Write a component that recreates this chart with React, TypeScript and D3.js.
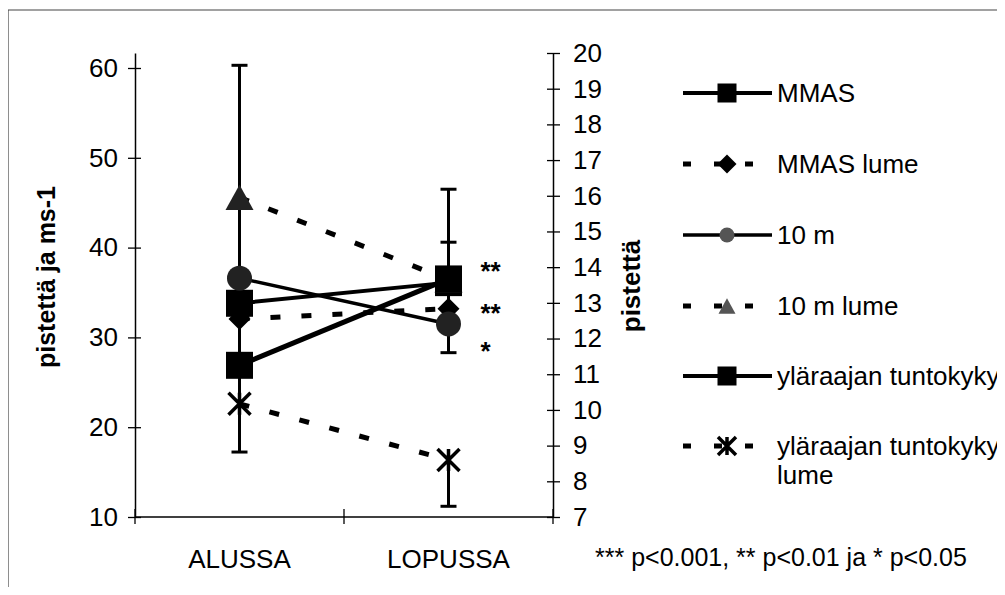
import React, { useEffect, useRef } from "react";
import * as d3 from "d3";

// categories and tick labels
const categories = ["ALUSSA", "LOPUSSA"];
const leftTicks = [10, 20, 30, 40, 50, 60];
const rightTicks = [7, 8, 9, 10, 11, 12, 13, 14, 15, 16, 17, 18, 19, 20];

// series values (left axis: pistettä ja ms-1)
const mmas = [33.8, 36.1];
const mmasLume = [32.05, 33.2];
const tenM = [36.6, 31.5];
const tenMLume = [45.6, 36.4];
// series values (right axis: pistettä)
const ylaraaja = [11.25, 13.67];
const ylaraajaLume = [10.17, 8.6];

// error bar ends (null = none)
const mmasErrHigh = [null, null];
const mmasErrLow = [26.9, null];
const tenMErrHigh = [null, 40.6];
const tenMErrLow = [33.8, 28.3];
const tenMLumeErrHigh = [60.3, 46.5];
const tenMLumeErrLow = [36.6, null];
const ylaraajaLumeErrHigh = [11.25, null];
const ylaraajaLumeErrLow = [8.82, 7.3];

// significance marks next to LOPUSSA
const sigMarks = ["**", "**", "*"];
const sigValues = [37.8, 33.2, 28.9];

const footnote = "*** p<0.001, ** p<0.01 ja * p<0.05";

type Series = {
  name: string;
  values: number[];
  axis: "left" | "right";
  dashed: boolean;
  width: number;
  marker: "square" | "diamond" | "circle" | "triangle" | "star";
  fill: string;
  errHigh?: (number | null)[];
  errLow?: (number | null)[];
};

const series: Series[] = [
  { name: "MMAS", values: mmas, axis: "left", dashed: false, width: 4, marker: "square", fill: "#000", errHigh: mmasErrHigh, errLow: mmasErrLow },
  { name: "MMAS lume", values: mmasLume, axis: "left", dashed: true, width: 5, marker: "diamond", fill: "#000" },
  { name: "10 m", values: tenM, axis: "left", dashed: false, width: 3.5, marker: "circle", fill: "#222", errHigh: tenMErrHigh, errLow: tenMErrLow },
  { name: "10 m lume", values: tenMLume, axis: "left", dashed: true, width: 5, marker: "triangle", fill: "#222", errHigh: tenMLumeErrHigh, errLow: tenMLumeErrLow },
  { name: "yläraajan tuntokyky", values: ylaraaja, axis: "right", dashed: false, width: 5, marker: "square", fill: "#000" },
  { name: "yläraajan tuntokyky lume", values: ylaraajaLume, axis: "right", dashed: true, width: 5, marker: "star", fill: "#000", errHigh: ylaraajaLumeErrHigh, errLow: ylaraajaLumeErrLow },
];

const FONT = "'Liberation Sans', Arial, Helvetica, sans-serif";

function drawMarker(g: any, type: string, cx: number, cy: number, s: number, fill: string) {
  const h = s / 2;
  if (type === "square") {
    g.append("rect").attr("x", cx - h).attr("y", cy - h).attr("width", s).attr("height", s).attr("fill", fill);
  } else if (type === "diamond") {
    g.append("path").attr("d", `M${cx},${cy - h}L${cx + h},${cy}L${cx},${cy + h}L${cx - h},${cy}Z`).attr("fill", fill);
  } else if (type === "circle") {
    g.append("circle").attr("cx", cx).attr("cy", cy).attr("r", h).attr("fill", fill);
  } else if (type === "triangle") {
    const th = s * 0.9;
    g.append("path").attr("d", `M${cx},${cy - th / 2}L${cx + h},${cy + th / 2}L${cx - h},${cy + th / 2}Z`).attr("fill", fill);
  } else if (type === "star") {
    g.append("path")
      .attr("d", `M${cx - h},${cy - h}L${cx + h},${cy + h}M${cx + h},${cy - h}L${cx - h},${cy + h}M${cx},${cy - h}L${cx},${cy + h}`)
      .attr("stroke", fill).attr("stroke-width", 3.5).attr("fill", "none");
  }
}

export default function App() {
  const svgRef = useRef<SVGSVGElement>(null);

  useEffect(() => {
    const svg = d3.select(svgRef.current);
    svg.selectAll("*").remove();

    // Dimensions of the plot area
    const left = 135, right = 553, top = 53, bottom = 517;

    const x = d3.scaleBand().domain(categories).range([left, right]);
    const yL = d3.scaleLinear().domain([10, 61.67]).range([bottom, top]);
    const yR = d3.scaleLinear().domain([7, 20]).range([bottom, top]);
    const cx = (c: string) => (x(c) as number) + x.bandwidth() / 2;
    const yOf = (s: Series) => (s.axis === "left" ? yL : yR);

    // frame
    svg.append("path").attr("d", "M8,595V10H1005").attr("fill", "none").attr("stroke", "#444").attr("stroke-width", 1.2);

    // left axis
    const gl = svg.append("g").attr("transform", `translate(${left},0)`)
      .call(d3.axisLeft(yL).tickValues(leftTicks).tickSize(7).tickSizeOuter(0).tickPadding(10).tickFormat(d3.format("d")));
    gl.selectAll(".tick line").attr("x1", 6).attr("stroke-width", 1.3);
    gl.select(".domain").attr("stroke-width", 1.5);
    gl.selectAll("text").attr("font-size", 26).attr("font-family", FONT).attr("fill", "#000");

    // right axis
    const gr = svg.append("g").attr("transform", `translate(${right},0)`)
      .call(d3.axisRight(yR).tickValues(rightTicks).tickSize(7).tickSizeOuter(0).tickPadding(13).tickFormat(d3.format("d")));
    gr.selectAll(".tick line").attr("x1", -6).attr("stroke-width", 1.3);
    gr.select(".domain").attr("stroke-width", 1.5);
    gr.selectAll("text").attr("font-size", 26).attr("font-family", FONT).attr("fill", "#000");

    // category axis
    svg.append("line").attr("x1", left).attr("x2", right).attr("y1", bottom).attr("y2", bottom).attr("stroke", "#000").attr("stroke-width", 1.5);
    const bounds = [left, ...categories.map((c) => (x(c) as number) + x.bandwidth())];
    svg.selectAll(".xtick").data(bounds).enter().append("line")
      .attr("x1", (d) => d).attr("x2", (d) => d).attr("y1", bottom - 8).attr("y2", bottom + 7)
      .attr("stroke", "#000").attr("stroke-width", 1.3);
    svg.selectAll(".xlabel").data(categories).enter().append("text")
      .attr("x", (d) => cx(d)).attr("y", 568).attr("text-anchor", "middle")
      .attr("font-size", 26).attr("font-family", FONT).text((d) => d);

    // axis titles
    svg.append("text").attr("transform", "translate(55,277) rotate(-90)").attr("text-anchor", "middle")
      .attr("font-size", 25).attr("font-weight", "bold").attr("font-family", FONT).text("pistettä ja ms-1");
    svg.append("text").attr("transform", "translate(640,286) rotate(-90)").attr("text-anchor", "middle")
      .attr("font-size", 26).attr("font-weight", "bold").attr("font-family", FONT).text("pistettä");

    // error bars
    const eg = svg.append("g");
    series.forEach((s) => {
      const y = yOf(s);
      categories.forEach((c, i) => {
        [s.errHigh?.[i], s.errLow?.[i]].forEach((end) => {
          if (end == null) return;
          eg.append("line").attr("x1", cx(c)).attr("x2", cx(c)).attr("y1", y(s.values[i])).attr("y2", y(end))
            .attr("stroke", "#000").attr("stroke-width", 3);
          eg.append("line").attr("x1", cx(c) - 8).attr("x2", cx(c) + 8).attr("y1", y(end)).attr("y2", y(end))
            .attr("stroke", "#000").attr("stroke-width", 3);
        });
      });
    });

    // lines
    const lg = svg.append("g");
    series.forEach((s) => {
      const y = yOf(s);
      const line = d3.line<number>().x((_, i) => cx(categories[i])).y((d) => y(d));
      lg.append("path").attr("d", line(s.values)).attr("fill", "none").attr("stroke", "#000")
        .attr("stroke-width", s.width).attr("stroke-dasharray", s.dashed ? "10 21" : null);
    });

    // markers
    const mg = svg.append("g");
    const sizes: Record<string, number> = { square: 27, diamond: 22, circle: 25, triangle: 28, star: 22 };
    series.forEach((s) => {
      const y = yOf(s);
      s.values.forEach((v, i) => drawMarker(mg, s.marker, cx(categories[i]), y(v), sizes[s.marker], s.fill));
    });

    // significance marks
    svg.selectAll(".sig").data(sigMarks).enter().append("text")
      .attr("x", cx(categories[1]) + 32).attr("y", (_, i) => yL(sigValues[i]) + 13)
      .attr("font-size", 26).attr("font-weight", "bold").attr("font-family", FONT).text((d) => d);

    // legend
    const legendY = [93, 164, 235, 306, 376, 446];
    const legendSizes: Record<string, number> = { square: 19, diamond: 19, circle: 15, triangle: 17, star: 18 };
    series.forEach((s, i) => {
      const ly = legendY[i];
      svg.append("line").attr("x1", 683).attr("x2", 772).attr("y1", ly).attr("y2", ly)
        .attr("stroke", "#000").attr("stroke-width", s.dashed ? 5 : Math.min(s.width, 4))
        .attr("stroke-dasharray", s.dashed ? "8 23" : null);
      drawMarker(svg, s.marker, 727, ly, legendSizes[s.marker], s.fill === "#000" ? "#000" : "#555");
      const words = s.name === "yläraajan tuntokyky lume" ? ["yläraajan tuntokyky", "lume"] : [s.name];
      const t = svg.append("text").attr("x", 777).attr("y", ly + 9).attr("font-size", 26).attr("font-family", FONT);
      words.forEach((w, k) => t.append("tspan").attr("x", 777).attr("dy", k === 0 ? 0 : 29).text(w));
    });

    // footnote
    svg.append("text").attr("x", 595).attr("y", 566).attr("font-size", 25).attr("font-family", FONT).text(footnote);
  }, []);

  return (
    <div style={{ margin: -8 }}>
      <svg ref={svgRef} width={1005} height={595} style={{ display: "block", background: "#fff" }} />
    </div>
  );
}
